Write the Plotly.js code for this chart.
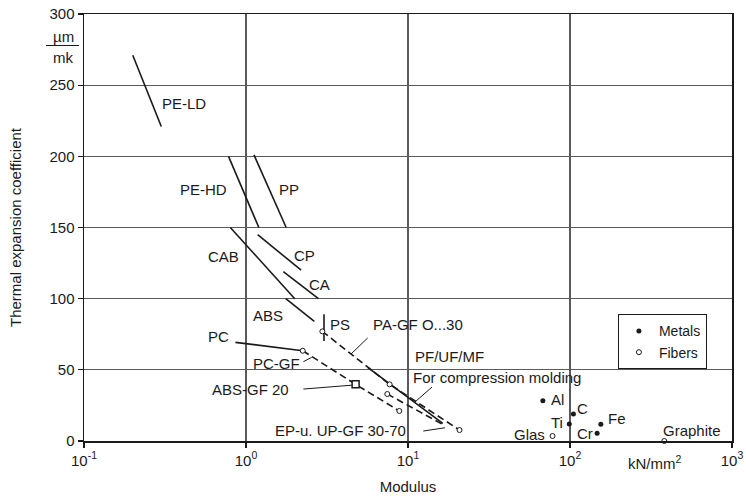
<!DOCTYPE html>
<html>
<head>
<meta charset="utf-8">
<script src="https://cdn.plot.ly/plotly-3.0.1.min.js"></script>
<style>
  html, body { margin: 0; padding: 0; background: #fff; }
  #chart { width: 746px; height: 503px; }
</style>
</head>
<body>
<div id="chart"></div>
<script>
// ---------------- DATA ----------------
// Unfilled plastics: solid ranges (modulus kN/mm², expansion µm/(m·K))
const solidNames = ['PE-LD', 'PE-HD', 'PP', 'CAB', 'CP', 'CA', 'ABS', 'PS', 'PC', 'PF/UF/MF'];
const solidX = [[0.2, 0.3], [0.78, 1.2], [1.12, 1.77], [0.8, 2.0], [1.18, 2.19], [1.7, 2.8], [1.76, 2.64], [3.03, 3.03], [0.86, 2.24], [5.66, 16.4]];
const solidY = [[271, 221], [200, 150], [201, 150], [150, 100], [145, 120], [119, 100], [100, 84], [89, 70.3], [69.3, 63.4], [51.5, 12.4]];

// Glass-fibre filled ranges (dashed)
const dashedNames = ['PA-GF 0...30', 'PC-GF', 'EP-u. UP-GF 30-70'];
const dashedX = [[2.96, 7.7, 20.8], [2.24, 4.75, 8.84], [7.45, 16.4]];
const dashedY = [[77, 39.8, 7.7], [63.4, 39.8, 21.1], [33, 11.6]];

// Open circle points on the plastic curves
const plasticPtsX = [2.96, 2.24, 7.7, 20.8, 8.84, 7.45];
const plasticPtsY = [77, 63.4, 39.8, 7.7, 21.1, 33];

// ABS-GF 20 (square)
const absgfX = [4.75];
const absgfY = [39.8];

// Metals (filled dots)
const metalNames = ['Al', 'C', 'Ti', 'Cr', 'Fe'];
const metalX = [68, 105, 99, 147, 155];
const metalY = [28.3, 19, 11.9, 5.4, 11.8];

// Fibers (open circles)
const fiberNames = ['Glas', 'Graphite'];
const fiberX = [78, 382];
const fiberY = [3.5, 0];

// Leader lines from labels to curves
const leaderX = [[5.64, 4.45], [2.26, 2.545], [2.26, 4.6], [14.06, 11.04], [12.43, 16.9]];
const leaderY = [[72.4, 61.1], [55.7, 58.8], [36.5, 39.3], [37.9, 27.4], [7.0, 9.3]];

// Tick values and labels
const yTicks = [0, 50, 100, 150, 200, 250, 300];
const xTicks = [0.1, 1, 10, 100, 1000];
const xTickText = ['10<sup>-1</sup>', '10<sup>0</sup>', '10<sup>1</sup>', '10<sup>2</sup>', '10<sup>3</sup>'];

// ---------------- TRACES ----------------
const FONT = 'Liberation Sans, Arial, Helvetica, sans-serif';
const INK = '#1a1a1a';
const traces = [];

solidNames.forEach((n, i) => traces.push({
  type: 'scatter', mode: 'lines', name: n, x: solidX[i], y: solidY[i],
  line: { color: INK, width: 1.6 }, showlegend: false, hoverinfo: 'name'
}));
dashedNames.forEach((n, i) => traces.push({
  type: 'scatter', mode: 'lines', name: n, x: dashedX[i], y: dashedY[i],
  line: { color: INK, width: 1.6, dash: '7px,4px' }, showlegend: false, hoverinfo: 'name'
}));
leaderX.forEach((lx, i) => traces.push({
  type: 'scatter', mode: 'lines', x: lx, y: leaderY[i],
  line: { color: INK, width: 1 }, showlegend: false, hoverinfo: 'skip'
}));
traces.push({
  type: 'scatter', mode: 'markers', x: plasticPtsX, y: plasticPtsY,
  marker: { symbol: 'circle', size: 5, color: '#fff', line: { color: INK, width: 1 } },
  showlegend: false, hoverinfo: 'x+y'
});
traces.push({
  type: 'scatter', mode: 'markers', name: 'ABS-GF 20', x: absgfX, y: absgfY,
  marker: { symbol: 'square', size: 7, color: '#fff', line: { color: INK, width: 1.5 } },
  showlegend: false
});
traces.push({
  type: 'scatter', mode: 'markers', name: 'Metals', x: metalX, y: metalY, text: metalNames,
  marker: { symbol: 'circle', size: 5, color: INK }, cliponaxis: false
});
traces.push({
  type: 'scatter', mode: 'markers', name: 'Fibers', x: fiberX, y: fiberY, text: fiberNames,
  marker: { symbol: 'circle', size: 5, color: '#fff', line: { color: INK, width: 1 } }, cliponaxis: false
});

// ---------------- LABELS ----------------
const L = v => Math.log10(v);
function lab(text, x, y, anchor) {
  return { text: text, x: L(x), y: y, xref: 'x', yref: 'y', xanchor: anchor, yanchor: 'middle',
           showarrow: false, font: { family: FONT, size: 15, color: INK } };
}
const annotations = [
  lab('PE-LD', 0.294, 236.8, 'left'),
  lab('PE-HD', 0.785, 176.4, 'right'),
  lab('PP', 1.56, 176.4, 'left'),
  lab('CAB', 0.927, 129.5, 'right'),
  lab('CP', 1.914, 130, 'left'),
  lab('CA', 2.38, 110.3, 'left'),
  lab('ABS', 1.074, 88.5, 'left'),
  lab('PS', 3.22, 82, 'left'),
  lab('PA-GF O...30', 5.91, 82, 'left'),
  lab('PC', 0.564, 73.3, 'left'),
  lab('PC-GF', 1.074, 54.6, 'left'),
  lab('ABS-GF 20', 0.5995, 36.5, 'left'),
  lab('PF/UF/MF', 10.78, 59.2, 'left'),
  lab('For compression molding', 10.43, 44.8, 'left'),
  lab('EP-u. UP-GF 30-70', 10.04, 7.2, 'right'),
  lab(metalNames[0], 74.1, 29.3, 'left'),
  lab(metalNames[1], 107.4, 23, 'left'),
  lab(metalNames[2], 93.1, 12.9, 'right'),
  lab(metalNames[3], 107.4, 5.4, 'left'),
  lab(metalNames[4], 167, 15.9, 'left'),
  lab(fiberNames[0], 71.8, 4.7, 'right'),
  lab(fiberNames[1], 362, 7.2, 'left'),
  { text: 'kN/mm<sup>2</sup>', xref: 'paper', yref: 'paper', x: 0.836, y: -0.05,
    xanchor: 'left', yanchor: 'middle', showarrow: false, font: { family: FONT, size: 15, color: INK } },
  { text: 'µm', xref: 'paper', yref: 'paper', x: -0.0324, y: 0.947,
    xanchor: 'center', yanchor: 'middle', showarrow: false, font: { family: FONT, size: 15, color: INK } },
  { text: 'mk', xref: 'paper', yref: 'paper', x: -0.032, y: 0.899,
    xanchor: 'center', yanchor: 'middle', showarrow: false, font: { family: FONT, size: 15, color: INK } }
];

const shapes = [
  // fraction bar of the unit
  { type: 'line', xref: 'paper', yref: 'paper', x0: -0.0586, x1: -0.0077, y0: 0.9262, y1: 0.9262,
    line: { color: INK, width: 1.2 } },
  // white patches that break the gridlines behind labels
  { type: 'rect', xref: 'paper', yref: 'paper', x0: 0.4954, x1: 0.8735, y0: 0.1148, y1: 0.1733,
    layer: 'between', fillcolor: '#fff', line: { width: 0 } },
  { type: 'rect', xref: 'paper', yref: 'paper', x0: 0.7037, x1: 0.7963, y0: 0.1148, y1: 0.3279,
    layer: 'between', fillcolor: '#fff', line: { width: 0 } },
  { type: 'rect', xref: 'paper', yref: 'paper', x0: 0.1914, x1: 0.3179, y0: 0.0796, y1: 0.1452,
    layer: 'between', fillcolor: '#fff', line: { width: 0 } }
];

const axisCommon = {
  showline: true, linecolor: INK, linewidth: 1.5, mirror: true,
  ticks: 'outside', ticklen: 5, tickwidth: 1.2, tickcolor: INK,
  showgrid: true, gridcolor: '#5a5a5a', gridwidth: 1.2, zeroline: false,
  tickfont: { family: FONT, size: 15, color: INK }
};

const layout = {
  width: 746, height: 503,
  margin: { l: 84, r: 14, t: 14, b: 62 },
  paper_bgcolor: '#fff', plot_bgcolor: '#fff',
  font: { family: FONT, size: 15, color: INK },
  showlegend: true,
  legend: { x: 0.961, xanchor: 'right', y: 0.297, yanchor: 'top',
            bgcolor: '#fff', bordercolor: INK, borderwidth: 1.2,
            font: { family: FONT, size: 14, color: INK }, tracegroupgap: 0, itemwidth: 30 },
  xaxis: Object.assign({}, axisCommon, {
    type: 'log', range: [-1.000001, 3.000001], tickmode: 'array', tickvals: xTicks, ticktext: xTickText,
    title: { text: 'Modulus', font: { family: FONT, size: 15, color: INK }, standoff: 14 },
    automargin: false
  }),
  yaxis: Object.assign({}, axisCommon, {
    range: [0, 300], tickmode: 'array', tickvals: yTicks,
    title: { text: 'Thermal expansion coefficient', font: { family: FONT, size: 15, color: INK }, standoff: 24 },
    automargin: false
  }),
  annotations: annotations,
  shapes: shapes
};

Plotly.newPlot('chart', traces, layout, { displayModeBar: false, staticPlot: true });
</script>
</body>
</html>
